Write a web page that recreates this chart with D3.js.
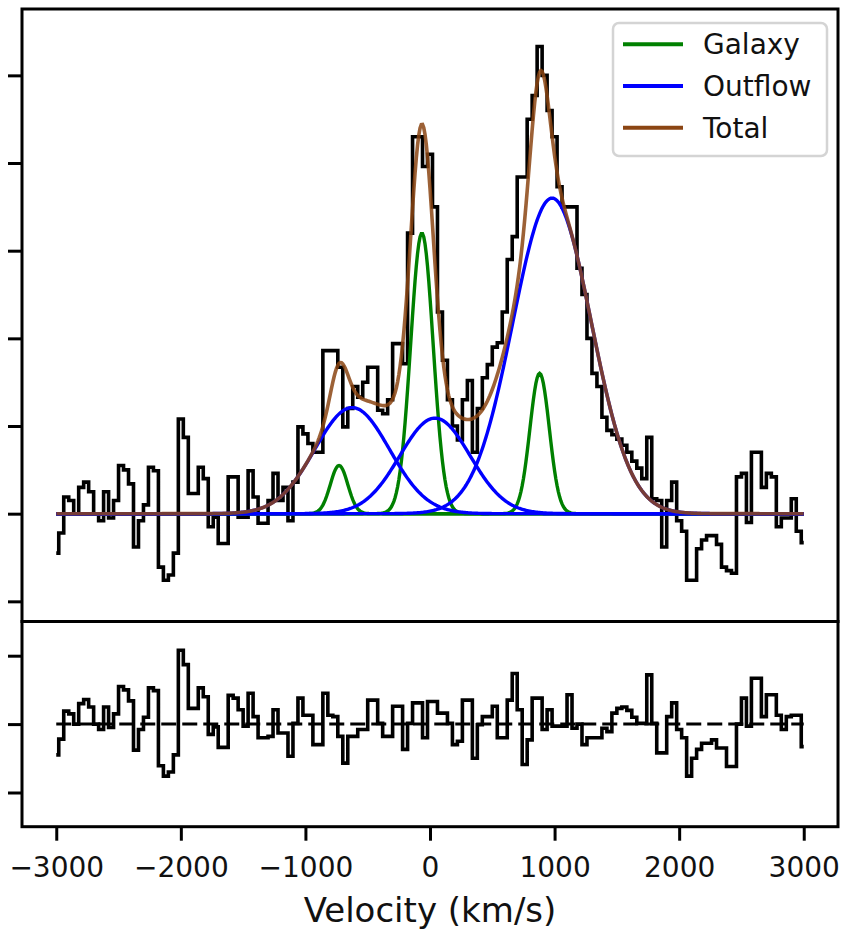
<!DOCTYPE html>
<html>
<head>
<meta charset="utf-8">
<script src="https://cdn.jsdelivr.net/npm/d3@7"></script>
<style>
body { margin: 0; background: #fff; }
text { font-family: "DejaVu Sans", sans-serif; fill: #111; }
</style>
</head>
<body>
<div id="container"></div>
<script>
// spectrum, 40 km/s channels from -3000 to 3000
var channelStart = -3000, channelWidth = 40;
var flux = [
  -0.45, -0.22, 0.19, 0.15, 0.0, 0.3, 0.36, 0.25, 0.0, -0.08,
  0.25, -0.05, 0.15, 0.55, 0.5, 0.34, -0.38, -0.08, 0.1, 0.53,
  0.49, -0.61, -0.76, -0.7, -0.45, 1.08, 0.87, 0.23, 0.23, 0.53,
  0.4, -0.15, -0.04, -0.34, -0.34, 0.42, 0.42, -0.04, -0.04, 0.49,
  0.19, -0.11, -0.11, 0.15, 0.46, 0.15, 0.3, -0.08, 0.36, 0.99,
  0.91, 0.8, 0.7, 0.7, 1.86, 1.86, 1.86, 1.67, 0.99, 1.2,
  1.45, 1.33, 1.5, 1.67, 1.67, 1.18, 1.14, 1.3, 1.94, 1.94,
  1.71, 3.2, 4.3, 4.3, 3.96, 4.1, 3.5, 2.3, 1.75, 1.3,
  1.0, 0.84, 1.3, 1.52, 0.7, 1.2, 1.55, 1.7, 1.9, 1.95,
  2.3, 2.9, 3.16, 3.84, 3.84, 4.5, 4.77, 5.33, 5.0, 4.6,
  4.3, 3.73, 3.5, 3.5, 3.5, 2.8, 2.5, 2.0, 1.6, 1.45,
  1.1, 0.95, 0.9, 0.85, 0.78, 0.7, 0.6, 0.52, 0.4, 0.87,
  0.17, 0.15, -0.38, 0.15, 0.36, -0.08, -0.2, -0.76, -0.76, -0.4,
  -0.3, -0.25, -0.25, -0.35, -0.61, -0.65, -0.68, 0.42, 0.46, -0.1,
  0.7, 0.7, 0.3, 0.46, 0.42, -0.15, -0.05, -0.05, 0.17, -0.2,
  -0.33
];
var residual = [
  -0.45, -0.22, 0.19, 0.15, 0.0, 0.3, 0.36, 0.25, 0.0, -0.08,
  0.25, -0.05, 0.15, 0.55, 0.5, 0.34, -0.38, -0.08, 0.1, 0.53,
  0.49, -0.61, -0.76, -0.7, -0.45, 1.08, 0.87, 0.23, 0.23, 0.53,
  0.4, -0.15, -0.04, -0.34, -0.34, 0.42, 0.38, 0.21, -0.03, 0.45,
  0.11, -0.2, -0.2, -0.18, 0.21, -0.13, -0.13, -0.47, 0.01, 0.38,
  0.13, 0.13, -0.3, -0.3, 0.45, 0.13, 0.11, -0.18, -0.57, -0.18,
  -0.18, -0.08, -0.08, 0.35, 0.35, 0.01, -0.18, -0.18, 0.26, 0.26,
  -0.37, 0.01, 0.31, 0.31, -0.2, 0.33, 0.33, 0.16, 0.16, 0.01,
  -0.3, -0.25, 0.35, 0.35, -0.5, -0.01, 0.11, 0.11, 0.26, -0.2,
  -0.2, 0.35, 0.74, 0.21, -0.59, -0.23, 0.38, 0.38, -0.08, 0.21,
  -0.03, -0.03, -0.03, 0.43, -0.06, 0.0, -0.3, -0.2, -0.2, -0.2,
  -0.06, -0.11, 0.16, 0.23, 0.25, 0.2, 0.1, 0.01, 0.01, 0.72,
  0.01, -0.42, -0.42, 0.11, 0.31, -0.08, -0.2, -0.76, -0.5, -0.37,
  -0.28, -0.28, -0.23, -0.35, -0.35, -0.62, -0.62, 0.0, 0.38, -0.03,
  0.67, 0.67, 0.11, 0.43, 0.43, 0.13, -0.08, 0.11, 0.13, 0.13,
  -0.33
];

// gaussian components of the fit
var galaxyCenter = [-730, -65, 880];
var galaxyAmp = [0.55, 3.2, 1.6];
var galaxySigma = [70, 90, 78];
var outflowCenter = [-625, 40, 980];
var outflowAmp = [1.21, 1.09, 3.6];
var outflowSigma = [300, 282, 315];

var xTicks = [-3000, -2000, -1000, 0, 1000, 2000, 3000];
var yTicksTop = [-1, 0, 1, 2, 3, 4, 5];
var yTicksBottom = [-1, 0, 1];
var legendLabels = ["Galaxy", "Outflow", "Total"];
var legendColors = ["green", "blue", "#8b4513"];

function gauss(v, c, a, s) {
    return a * Math.exp(-(v - c) * (v - c) / (2 * s * s));
}

function drawChart() {
    var width = 842, height = 933;
    var left = 22, right = 838, top = 9, mid = 621.5, bottom = 826.7;

    var svg = d3.select("#container").append("svg")
        .attr("width", width)
        .attr("height", height);

    var x = d3.scaleLinear().domain([-3275, 3275]).range([left, right]);
    var yTop = d3.scaleLinear().domain([-1.23, 5.757]).range([mid, top]);
    var yBot = d3.scaleLinear().domain([-1.5, 1.5]).range([bottom, mid]);

    var spec = flux.map(function (f, i) {
        return { v: channelStart + i * channelWidth, f: f, r: residual[i] };
    });

    var grid = d3.range(-3000, 3001, 10);
    var model = grid.map(function (v) {
        var g = galaxyCenter.map(function (c, k) { return gauss(v, c, galaxyAmp[k], galaxySigma[k]); });
        var o = outflowCenter.map(function (c, k) { return gauss(v, c, outflowAmp[k], outflowSigma[k]); });
        return { v: v, g: g, o: o, t: d3.sum(g) + d3.sum(o) };
    });

    // top panel
    var stepTop = d3.line()
        .x(function (d) { return x(d.v); })
        .y(function (d) { return yTop(d.f); })
        .curve(d3.curveStep);

    svg.append("path")
        .datum(spec)
        .attr("d", stepTop)
        .attr("fill", "none")
        .attr("stroke", "#000")
        .attr("stroke-width", 3.6);

    function component(key, k) {
        return d3.line()
            .x(function (d) { return x(d.v); })
            .y(function (d) { return yTop(d[key][k]); });
    }

    galaxyCenter.forEach(function (c, k) {
        svg.append("path").datum(model)
            .attr("d", component("g", k))
            .attr("fill", "none")
            .attr("stroke", "green")
            .attr("stroke-width", 3.4);
    });
    outflowCenter.forEach(function (c, k) {
        svg.append("path").datum(model)
            .attr("d", component("o", k))
            .attr("fill", "none")
            .attr("stroke", "blue")
            .attr("stroke-width", 3.4);
    });
    svg.append("path").datum(model)
        .attr("d", d3.line()
            .x(function (d) { return x(d.v); })
            .y(function (d) { return yTop(d.t); }))
        .attr("fill", "none")
        .attr("stroke", "#8b4513")
        .attr("stroke-opacity", 0.85)
        .attr("stroke-width", 3.6);

    // bottom panel
    svg.append("path")
        .datum(spec)
        .attr("d", d3.line()
            .x(function (d) { return x(d.v); })
            .y(function (d) { return yBot(d.r); })
            .curve(d3.curveStep))
        .attr("fill", "none")
        .attr("stroke", "#000")
        .attr("stroke-width", 3.6);

    svg.append("line")
        .attr("x1", x(-3000)).attr("x2", x(3000))
        .attr("y1", yBot(0)).attr("y2", yBot(0))
        .attr("stroke", "#000")
        .attr("stroke-width", 3)
        .attr("stroke-dasharray", "15,6");

    // frames
    svg.append("rect")
        .attr("x", left).attr("y", top)
        .attr("width", right - left).attr("height", mid - top)
        .attr("fill", "none").attr("stroke", "#000").attr("stroke-width", 3);
    svg.append("rect")
        .attr("x", left).attr("y", mid)
        .attr("width", right - left).attr("height", bottom - mid)
        .attr("fill", "none").attr("stroke", "#000").attr("stroke-width", 3);

    // axes
    var axTop = svg.append("g")
        .attr("transform", "translate(" + left + ",0)")
        .call(d3.axisLeft(yTop).tickValues(yTicksTop).tickSize(14).tickFormat(""));
    var axBot = svg.append("g")
        .attr("transform", "translate(" + left + ",0)")
        .call(d3.axisLeft(yBot).tickValues(yTicksBottom).tickSize(14).tickFormat(""));
    var axX = svg.append("g")
        .attr("transform", "translate(0," + bottom + ")")
        .call(d3.axisBottom(x).tickValues(xTicks).tickSize(14).tickPadding(16)
            .tickFormat(d3.format("d")));

    [axTop, axBot, axX].forEach(function (ax) {
        ax.select(".domain").remove();
        ax.selectAll(".tick line").attr("stroke", "#000").attr("stroke-width", 3);
    });
    axX.selectAll(".tick text")
        .attr("font-size", 28)
        .attr("font-family", "DejaVu Sans")
        .attr("fill", "#111");

    svg.append("text")
        .attr("x", 430)
        .attr("y", 922)
        .attr("text-anchor", "middle")
        .attr("font-size", 34)
        .text("Velocity (km/s)");

    // legend
    var legend = svg.append("g");
    legend.append("rect")
        .attr("x", 613).attr("y", 23)
        .attr("width", 214).attr("height", 133)
        .attr("rx", 6)
        .attr("fill", "#fff")
        .attr("stroke", "#d4d4d4")
        .attr("stroke-width", 2.5);

    var items = legend.selectAll(".item")
        .data(legendLabels)
        .enter()
        .append("g")
        .attr("transform", function (d, i) {
            return "translate(0," + (44.3 + i * 41.7) + ")";
        });
    items.append("line")
        .attr("x1", 623).attr("x2", 683)
        .attr("stroke", function (d, i) { return legendColors[i]; })
        .attr("stroke-width", 4);
    items.append("text")
        .attr("x", 703)
        .attr("y", 10)
        .attr("font-size", 28)
        .text(function (d) { return d; });
}

drawChart();
</script>
</body>
</html>
